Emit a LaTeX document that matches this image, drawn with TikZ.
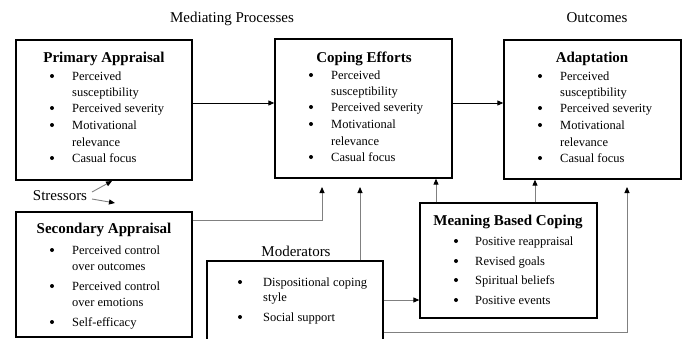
\documentclass[tikz,border=0pt]{standalone}
\usepackage{fontspec}
\setmainfont{Liberation Serif}
\usetikzlibrary{arrows.meta}
\begin{document}
\begin{tikzpicture}[x=1pt,y=-1pt,
  box/.style={draw=black, line width=1.3pt, inner sep=0pt, fill=none},
  body/.style={font=\fontsize{12.5}{15}\selectfont, anchor=base west, inner sep=0pt},
  ttl/.style={font=\fontsize{15}{18}\selectfont\bfseries, anchor=base, inner sep=0pt},
  hdr/.style={font=\fontsize{15}{18}\selectfont, anchor=base, inner sep=0pt},
  conn/.style={draw=black!50, line width=0.9pt, -{Triangle[length=6pt,width=5pt,color=black]}},
  mainconn/.style={draw=black, line width=0.9pt, -{Triangle[length=6pt,width=5pt]}},
  bul/.style={circle, fill=black, inner sep=0pt, minimum size=4pt}
]
\clip (0,0) rectangle (684,338);
\useasboundingbox (0,0) rectangle (684,338);

% headers
\node[hdr] (hmed) at (232,22) {Mediating Processes};
\node[hdr] (hout) at (597,22) {Outcomes};
\node[hdr] (hmod) at (296,256) {Moderators};
\node[hdr] (str) at (60,200) {Stressors};

% boxes
\node[box, minimum width=176pt, minimum height=140pt] (prim) at (104,110) {};
\node[box, minimum width=177pt, minimum height=139pt] (cope) at (363.5,108.5) {};
\node[box, minimum width=177pt, minimum height=139pt] (adap) at (592.5,109.5) {};
\node[box, minimum width=176pt, minimum height=125pt] (sec) at (104,274.5) {};
\node[box, minimum width=176pt, minimum height=100pt] (mod) at (295,311) {};
\node[box, minimum width=177pt, minimum height=115pt] (mean) at (508.5,260.5) {};

% Primary Appraisal
\node[ttl] (tprim) at (104,62) {Primary Appraisal};
\node[bul] (pb1) at (52,76) {};
\node[body] (p1) at (72,80) {Perceived};
\node[body] (p2) at (72,96) {susceptibility};
\node[bul] (pb2) at (52,108) {};
\node[body] (p3) at (72,112) {Perceived severity};
\node[bul] (pb3) at (52,125) {};
\node[body] (p4) at (72,129) {Motivational};
\node[body] (p5) at (72,146) {relevance};
\node[bul] (pb4) at (52,158) {};
\node[body] (p6) at (72,162) {Casual focus};

% Coping Efforts
\node[ttl] (tcope) at (364,62) {Coping Efforts};
\node[bul] (cb1) at (311,75) {};
\node[body] (c1) at (331,79) {Perceived};
\node[body] (c2) at (331,95) {susceptibility};
\node[bul] (cb2) at (311,107) {};
\node[body] (c3) at (331,111) {Perceived severity};
\node[bul] (cb3) at (311,124) {};
\node[body] (c4) at (331,128) {Motivational};
\node[body] (c5) at (331,145) {relevance};
\node[bul] (cb4) at (311,157) {};
\node[body] (c6) at (331,161) {Casual focus};

% Adaptation
\node[ttl] (tadap) at (592,62) {Adaptation};
\node[bul] (ab1) at (540,76) {};
\node[body] (a1) at (560,80) {Perceived};
\node[body] (a2) at (560,96) {susceptibility};
\node[bul] (ab2) at (540,108) {};
\node[body] (a3) at (560,112) {Perceived severity};
\node[bul] (ab3) at (540,125) {};
\node[body] (a4) at (560,129) {Motivational};
\node[body] (a5) at (560,146) {relevance};
\node[bul] (ab4) at (540,158) {};
\node[body] (a6) at (560,162) {Casual focus};

% Secondary Appraisal
\node[ttl] (tsec) at (104,233) {Secondary Appraisal};
\node[bul] (sb1) at (52,250) {};
\node[body] (s1) at (72,254) {Perceived control};
\node[body] (s2) at (72,270) {over outcomes};
\node[bul] (sb2) at (52,286) {};
\node[body] (s3) at (72,290) {Perceived control};
\node[body] (s4) at (72,306) {over emotions};
\node[bul] (sb3) at (52,322) {};
\node[body] (s5) at (72,326) {Self-efficacy};

% Meaning Based Coping
\node[ttl] (tmean) at (508,225) {Meaning Based Coping};
\node[bul] (mb1) at (456,241) {};
\node[body] (m1) at (475,245) {Positive reappraisal};
\node[bul] (mb2) at (456,261) {};
\node[body] (m2) at (475,265) {Revised goals};
\node[bul] (mb3) at (456,280) {};
\node[body] (m3) at (475,284) {Spiritual beliefs};
\node[bul] (mb4) at (456,300) {};
\node[body] (m4) at (475,304) {Positive events};

% Moderators
\node[bul] (ob1) at (240,282) {};
\node[body] (o1) at (263,286) {Dispositional coping};
\node[body] (o2) at (263,301) {style};
\node[bul] (ob2) at (240,317) {};
\node[body] (o3) at (263,321) {Social support};

% connectors
\coordinate (y103) at (0,103);
\draw[mainconn] (prim.east |- y103) -- (cope.west |- y103);
\draw[mainconn] (cope.east |- y103) -- (adap.west |- y103);

\coordinate (s1a) at (92,192);
\coordinate (s1b) at (112,181);
\coordinate (s2a) at (92,199);
\coordinate (s2b) at (115,203);
\draw[conn] (s1a) -- (s1b);
\draw[conn] (s2a) -- (s2b);

\coordinate (secy) at (0,220);
\coordinate (t322) at (322,187);
\draw[conn] (sec.east |- secy) -| (t322);

\coordinate (x360) at (360,187);
\draw[conn] (mod.north -| x360) -- (x360);

\coordinate (x436) at (436,0);
\draw[conn] (mean.north -| x436) -- (cope.south -| x436);
\coordinate (x535) at (535,0);
\draw[conn] (mean.north -| x535) -- (adap.south -| x535);

\coordinate (y300) at (0,300);
\draw[conn] (mod.east |- y300) -- (mean.west |- y300);

\coordinate (y332) at (0,332);
\coordinate (t627) at (627,187);
\draw[conn] (mod.east |- y332) -| (t627);
\end{tikzpicture}
\end{document}
